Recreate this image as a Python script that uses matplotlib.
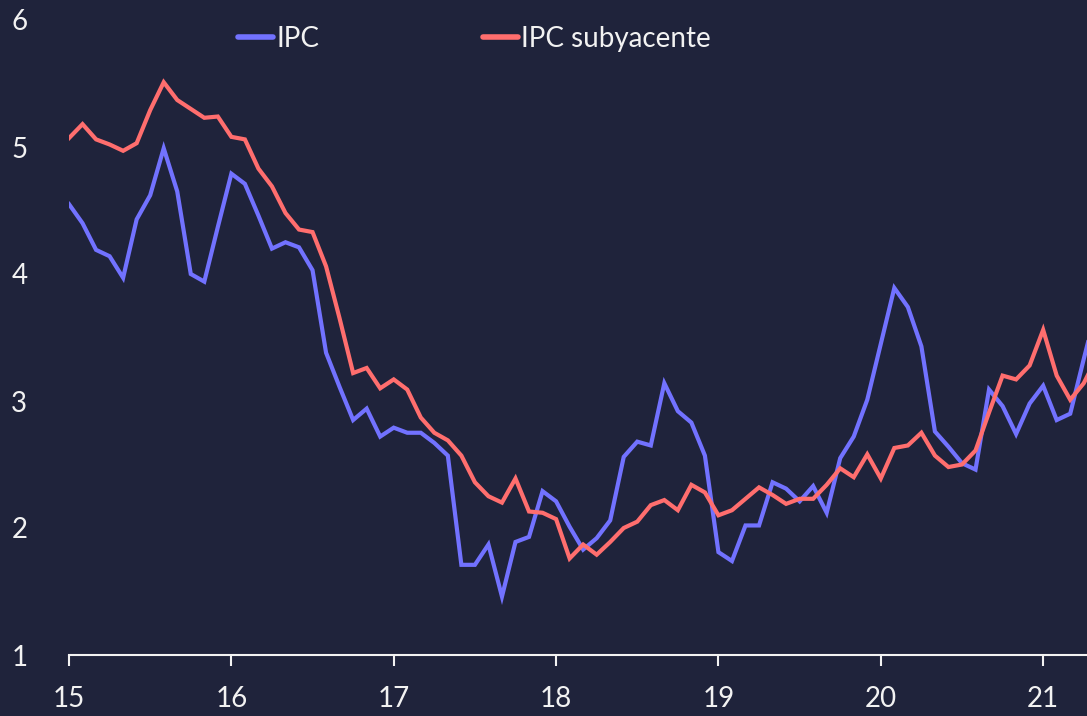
import numpy as np
import matplotlib
matplotlib.use('Agg')
from matplotlib import pyplot as plt

# monthly data, Jan 2015 onwards (x expressed as year "15", "16", ...)
ipc = [4.55, 4.40, 4.19, 4.14, 3.97, 4.43, 4.62, 4.99, 4.65, 4.00, 3.94, 4.37,
       4.79, 4.71, 4.46, 4.20, 4.25, 4.21, 4.03, 3.38, 3.11, 2.85, 2.94, 2.72,
       2.79, 2.75, 2.75, 2.67, 2.57, 1.71, 1.71, 1.87, 1.46, 1.89, 1.93, 2.29,
       2.21, 2.01, 1.83, 1.92, 2.06, 2.56, 2.68, 2.65, 3.14, 2.92, 2.83, 2.57,
       1.81, 1.74, 2.02, 2.02, 2.36, 2.31, 2.21, 2.33, 2.12, 2.55, 2.72, 3.01,
       3.45, 3.89, 3.74, 3.43, 2.76, 2.64, 2.51, 2.46, 3.09, 2.96, 2.74, 2.98,
       3.12, 2.85, 2.90, 3.33, 3.75]
ipc_sub = [5.07, 5.18, 5.06, 5.02, 4.97, 5.03, 5.29, 5.51, 5.37, 5.30, 5.23, 5.24,
           5.08, 5.06, 4.83, 4.69, 4.48, 4.35, 4.33, 4.06, 3.65, 3.22, 3.26, 3.10,
           3.17, 3.09, 2.87, 2.75, 2.69, 2.57, 2.36, 2.25, 2.20, 2.39, 2.13, 2.12,
           2.07, 1.76, 1.87, 1.79, 1.89, 2.00, 2.05, 2.18, 2.22, 2.14, 2.34, 2.28,
           2.10, 2.14, 2.23, 2.32, 2.26, 2.19, 2.23, 2.23, 2.34, 2.47, 2.40, 2.58,
           2.39, 2.63, 2.65, 2.75, 2.57, 2.48, 2.50, 2.61, 2.91, 3.20, 3.17, 3.28,
           3.56, 3.20, 3.01, 3.14, 3.35]
years = [15, 16, 17, 18, 19, 20, 21]
y_ticks = [1, 2, 3, 4, 5, 6]

bg = '#1f233b'
col_ipc = '#7272ff'
col_sub = '#ff6e6e'
txt = '#f2f2f2'

plt.rcParams['font.family'] = ['Lato', 'DejaVu Sans']

x = 15 + np.arange(len(ipc)) / 12.0

fig = plt.figure(figsize=(10.87, 7.16), dpi=100, facecolor=bg)
ax = fig.add_axes([69 / 1087, 61 / 716, 1 - 69 / 1087, (655 - 20) / 716])
ax.set_facecolor(bg)

ax.plot(x, ipc, color=col_ipc, lw=3, label='IPC', solid_joinstyle='miter')
ax.plot(x, ipc_sub, color=col_sub, lw=3, label='IPC subyacente', solid_joinstyle='miter')

ax.set_xlim(15, 15 + 75.24 / 12)
ax.set_ylim(1, 6)
ax.set_xticks(years)
ax.set_xticklabels([str(y) for y in years])
ax.set_yticks(y_ticks)

for s in ['top', 'right', 'left']:
    ax.spines[s].set_visible(False)
ax.spines['bottom'].set_color(txt)
ax.spines['bottom'].set_linewidth(1.5)
ax.tick_params(axis='x', colors=txt, length=8, width=1.5, pad=14, labelsize=20)
ax.tick_params(axis='y', colors=txt, length=0, pad=30, labelsize=20)

leg = ax.legend(loc='upper left', bbox_to_anchor=(144 / 1018, 1.03), ncol=2,
                frameon=False, fontsize=20, handlelength=1.25, handletextpad=0.12,
                columnspacing=5.9, labelcolor=txt)
for h in leg.get_lines():
    h.set_linewidth(4)
    h.set_solid_capstyle('round')

plt.savefig('out.png', dpi=100, facecolor=bg)
plt.close()
